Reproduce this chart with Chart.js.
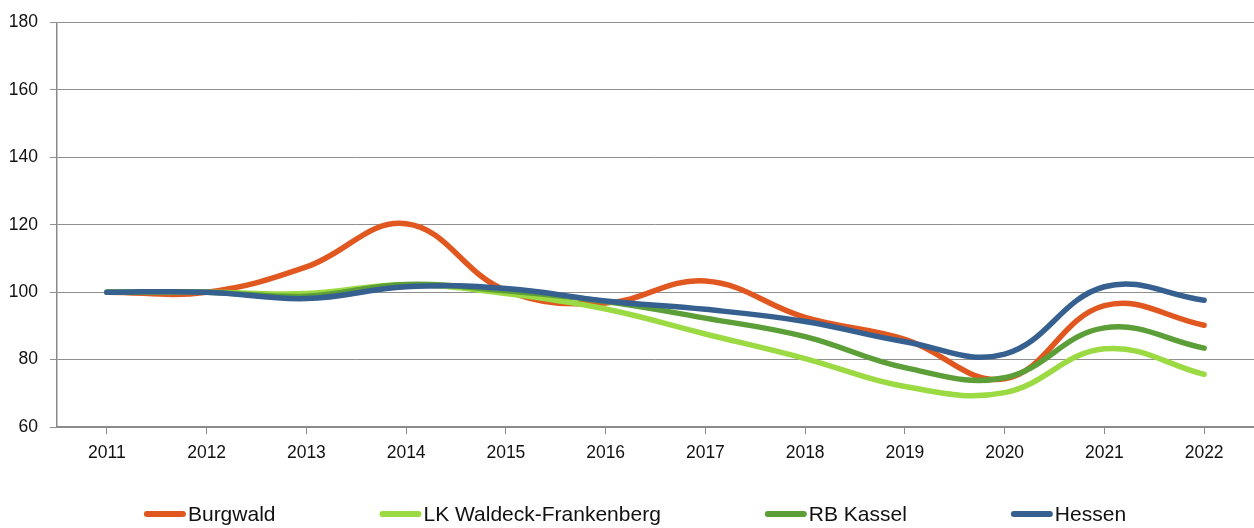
<!DOCTYPE html>
<html>
<head>
<meta charset="utf-8">
<script src="https://cdn.jsdelivr.net/npm/chart.js@4"></script>
<style>
  html, body { margin: 0; padding: 0; background: #fff; }
  #wrap { width: 1254px; height: 528px; }
</style>
</head>
<body>
<div id="wrap"><canvas id="chart" width="1254" height="528"></canvas></div>
<script>
// --- Data ---
const years = ['2011', '2012', '2013', '2014', '2015', '2016', '2017', '2018', '2019', '2020', '2021', '2022'];
const burgwald = [100, 100, 107.5, 120.3, 100.5, 96.8, 103.3, 92.5, 86, 74.3, 96, 90.2];
const lkWaldeck = [100, 100, 99.6, 102.2, 99.6, 95, 87.6, 80.3, 72, 70.2, 83.2, 75.6];
const rbKassel = [100, 100, 98.8, 102.3, 100.4, 97.2, 92.3, 86.8, 77.6, 74.6, 89.4, 83.4];
const hessen = [100, 100, 98.1, 101.6, 101.1, 97.4, 94.9, 91.3, 85.3, 81.6, 101.6, 97.6];
const seriesNames = ['Burgwald', 'LK Waldeck-Frankenberg', 'RB Kassel', 'Hessen'];
const seriesColors = ['#E0571F', '#9CDA44', '#5C9E37', '#36608F'];

const FONT = "'Liberation Sans', Arial, sans-serif";

// simple legend drawn under the plot: short thick line + label, spread out
const bottomLegend = {
    id: 'bottomLegend',
    afterDraw(chart) {
        const ctx = chart.ctx;
        const lineW = 42, gap = 2, pad = 104, y = 514;
        ctx.save();
        ctx.font = '21px ' + FONT;
        const widths = seriesNames.map(n => lineW + gap + ctx.measureText(n).width);
        const total = widths.reduce((a, b) => a + b, 0) + pad * (widths.length - 1);
        let x = (chart.width - total) / 2 + 8;
        seriesNames.forEach((name, i) => {
            ctx.strokeStyle = seriesColors[i];
            ctx.lineWidth = 6;
            ctx.lineCap = 'round';
            ctx.beginPath();
            ctx.moveTo(x + 3, y);
            ctx.lineTo(x + lineW - 3, y);
            ctx.stroke();
            ctx.fillStyle = '#111';
            ctx.textBaseline = 'middle';
            ctx.textAlign = 'left';
            ctx.fillText(name, x + lineW + gap, y + 1);
            x += widths[i] + pad;
        });
        ctx.restore();
    }
};

const allSeries = [burgwald, lkWaldeck, rbKassel, hessen];

new Chart(document.getElementById('chart'), {
    type: 'line',
    data: {
        labels: years,
        datasets: allSeries.map((vals, i) => ({
            label: seriesNames[i],
            data: vals,
            borderColor: seriesColors[i],
            backgroundColor: seriesColors[i],
            borderWidth: 5.5,
            borderCapStyle: 'round',
            pointRadius: 0,
            tension: 0.4,
            fill: false,
            order: 4 - i
        }))
    },
    options: {
        responsive: false,
        animation: false,
        layout: { padding: { top: 18, right: 0, bottom: 50, left: 0 } },
        plugins: { legend: { display: false }, tooltip: { enabled: false } },
        scales: {
            x: {
                offset: true,
                grid: { drawOnChartArea: false, drawTicks: true, tickLength: 7, color: '#8a8a8a' },
                border: { color: '#8a8a8a', width: 1.5 },
                ticks: { color: '#111', font: { family: FONT, size: 17.5 }, padding: 9, maxRotation: 0 },
                afterFit(scale) { scale.height = 51; }
            },
            y: {
                min: 60, max: 180,
                grid: { color: '#8f8f8f', lineWidth: 1, tickLength: 7 },
                border: { color: '#8a8a8a', width: 1.5 },
                ticks: { stepSize: 20, color: '#111', font: { family: FONT, size: 17.5 }, padding: 12 },
                afterFit(scale) { scale.width = 57; }
            }
        }
    },
    plugins: [bottomLegend]
});
</script>
</body>
</html>
